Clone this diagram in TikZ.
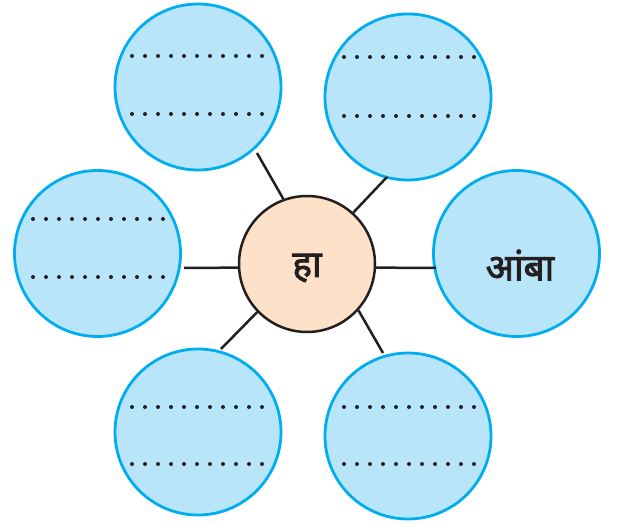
\documentclass[tikz,border=0pt]{standalone}
\usepackage{fontspec}
\newfontfamily\devfont[Script=Devanagari, FakeBold=2.4]{Noto Sans}
\definecolor{bluefill}{HTML}{B9E5FA}
\definecolor{bluedraw}{HTML}{00AEEF}
\definecolor{peach}{HTML}{FDE1C9}
\definecolor{ink}{HTML}{231F20}
\tikzset{
  bubble/.style={circle, draw=bluedraw, fill=bluefill, line width=2.8pt, minimum size=166pt, inner sep=0pt},
  hub/.style={circle, draw=ink, fill=peach, line width=2.5pt, minimum size=136pt, inner sep=0pt},
  link/.style={draw=ink, line width=2.5pt},
  dev/.style={font=\devfont\fontsize{37}{40}\selectfont, text=ink},
  dotmark/.style={fill=ink}
}
\newcommand{\dotrow}[3]{\foreach \k in {0,...,10}{\fill[dotmark] (#1+13*\k,#3) circle (2pt);}}
\begin{document}
\begin{tikzpicture}[x=1pt,y=-1pt]
\useasboundingbox (0,0) rectangle (618,526);
\node[hub] (c) at (307,264) {};
\node[bubble] (tl) at (198,87) {};
\node[bubble] (tr) at (408,97) {};
\node[bubble] (l) at (97.5,253.5) {};
\node[bubble] (r) at (516.5,253.5) {};
\node[bubble] (bl) at (198,432) {};
\node[bubble] (br) at (408,436) {};
\node[dev] (hub text) at (307,268) {हा};
\node[dev] (r text) at (520,265) {आंबा};
% connector end points
\coordinate (etl) at ([shift={(59,66)}]tl.center);
\coordinate (etr) at ([shift={(-21,80)}]tr.center);
\coordinate (el) at ([shift={(86.5,14.5)}]l.center);
\coordinate (er) at ([shift={(-80.5,14.5)}]r.center);
\coordinate (ebl) at ([shift={(23,-83)}]bl.center);
\coordinate (ebr) at ([shift={(-25,-83)}]br.center);
\draw[link] (c.110) -- (etl);
\draw[link] (c.48) -- (etr);
\draw[link] (c.183) -- (el);
\draw[link] (c.357) -- (er);
\draw[link] (c.224) -- (ebl);
\draw[link] (c.318) -- (ebr);
% dotted writing lines
\dotrow{132}{}{56}
\dotrow{132}{}{114}
\dotrow{344}{}{57}
\dotrow{344}{}{116}
\dotrow{33}{}{219}
\dotrow{33}{}{277}
\dotrow{132}{}{407}
\dotrow{132}{}{464}
\dotrow{344}{}{407}
\dotrow{344}{}{464}
\end{tikzpicture}
\end{document}
